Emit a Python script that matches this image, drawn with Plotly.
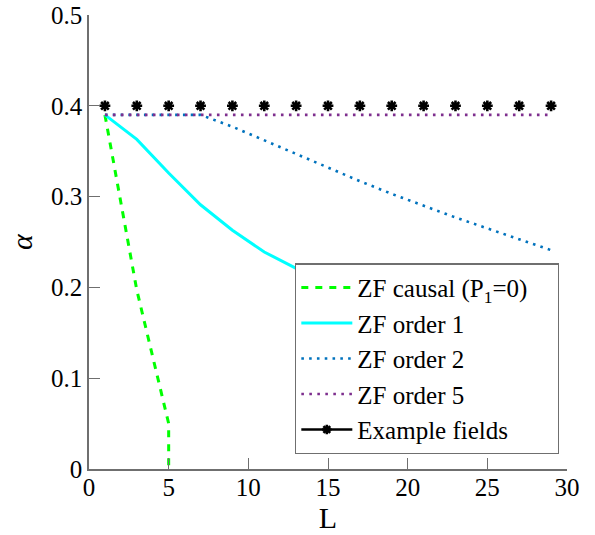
import plotly.graph_objects as go

# Data series
L_causal = [1, 3, 5, 5]
alpha_causal = [0.39, 0.197, 0.05, 0.0]

L_odd = [1, 3, 5, 7, 9, 11, 13, 15, 17, 19, 21, 23, 25, 27, 29]
alpha_order1 = [0.39, 0.363, 0.326, 0.291, 0.263, 0.239, 0.221, 0.204,
                0.19, 0.178, 0.168, 0.159, 0.151, 0.144, 0.137]
alpha_order2 = [0.39, 0.39, 0.39, 0.39, 0.377, 0.362, 0.347, 0.332,
                0.317, 0.303, 0.29, 0.277, 0.265, 0.253, 0.241]
alpha_order5 = [0.39] * 15
alpha_example = [0.4] * 15

x_ticks = [0, 5, 10, 15, 20, 25, 30]
y_ticks = [0, 0.1, 0.2, 0.3, 0.4, 0.5]
y_tick_text = ["0", "0.1", "0.2", "0.3", "0.4", "0.5"]

FONT = "Liberation Serif, Times New Roman, serif"
AXIS_GREY = "#6f6f6f"
PAD = "&nbsp;" * 4  # right-hand padding inside the legend box

fig = go.Figure()

fig.add_trace(go.Scatter(
    x=L_causal, y=alpha_causal, mode="lines",
    name="ZF causal (P<sub>1</sub>=0)" + PAD,
    line=dict(color="#00ff00", width=3, dash="7px,7px"),
))
fig.add_trace(go.Scatter(
    x=L_odd, y=alpha_order1, mode="lines", name="ZF order 1",
    line=dict(color="#00ffff", width=3),
))
fig.add_trace(go.Scatter(
    x=L_odd, y=alpha_order2, mode="lines", name="ZF order 2",
    line=dict(color="#0072bd", width=2.6, dash="2.6px,5.2px"),
))
fig.add_trace(go.Scatter(
    x=L_odd, y=alpha_order5, mode="lines", name="ZF order 5",
    line=dict(color="#7e2f8e", width=2.6, dash="2.6px,5.4px"),
))
# Example fields: marks only in the plot, line+mark in the legend
fig.add_trace(go.Scatter(
    x=L_odd, y=alpha_example, mode="markers", showlegend=False,
    marker=dict(symbol="asterisk", size=9, color="black",
                line=dict(color="black", width=2.6)),
))
fig.add_trace(go.Scatter(
    x=[None], y=[None], mode="lines+markers", name="Example fields",
    line=dict(color="black", width=2.5),
    marker=dict(symbol="asterisk", size=8, color="black",
                line=dict(color="black", width=2.6)),
))

fig.update_layout(
    width=595, height=535,
    margin=dict(l=89, r=28, t=15, b=66, autoexpand=False),
    paper_bgcolor="white", plot_bgcolor="white",
    font=dict(family=FONT, size=25, color="black"),
    showlegend=True,
    legend=dict(
        x=0.431, y=0.032, xanchor="left", yanchor="bottom",
        bgcolor="white", bordercolor=AXIS_GREY, borderwidth=1.3,
        font=dict(family=FONT, size=25, color="black"),
        itemwidth=51, tracegroupgap=0,
    ),
    xaxis=dict(
        range=[0, 30], tickvals=x_ticks, ticks="inside", ticklen=11,
        tickwidth=1.3, tickcolor=AXIS_GREY, showline=True, linecolor=AXIS_GREY,
        linewidth=1.5, showgrid=False, zeroline=False, automargin=False,
        ticklabelstandoff=-5,
        title=dict(text="L", standoff=6),
    ),
    yaxis=dict(
        range=[0, 0.5], tickvals=y_ticks, ticktext=y_tick_text, ticks="inside",
        ticklen=11, tickwidth=1.3, tickcolor=AXIS_GREY, showline=True,
        linecolor=AXIS_GREY, linewidth=1.5, showgrid=False, zeroline=False,
        automargin=False, title=dict(text="<i>α</i>", standoff=10),
    ),
)

fig.write_html("out.html")
